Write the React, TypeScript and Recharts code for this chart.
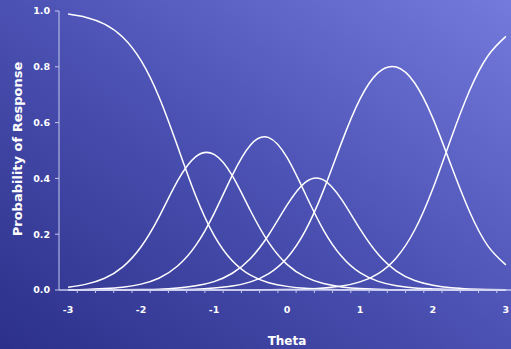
import { LineChart, Line, XAxis, YAxis, Label } from 'recharts';

// theta grid and category response probabilities
const theta = [-3, -2.75, -2.5, -2.25, -2, -1.75, -1.5, -1.25, -1, -0.75, -0.5, -0.25, 0, 0.25, 0.5, 0.75, 1, 1.25, 1.5, 1.75, 2, 2.25, 2.5, 2.75, 3];

const cat0 = [0.989, 0.977, 0.953, 0.906, 0.822, 0.689, 0.515, 0.337, 0.196, 0.105, 0.053, 0.026, 0.013, 0.006, 0.003, 0.001, 0.001, 0, 0, 0, 0, 0, 0, 0, 0];
const cat1 = [0.01, 0.021, 0.042, 0.083, 0.155, 0.264, 0.391, 0.478, 0.486, 0.41, 0.284, 0.17, 0.092, 0.047, 0.023, 0.011, 0.005, 0.003, 0.001, 0.001, 0, 0, 0, 0, 0];
const cat2 = [0.001, 0.002, 0.005, 0.01, 0.021, 0.043, 0.086, 0.16, 0.274, 0.411, 0.52, 0.546, 0.475, 0.345, 0.215, 0.12, 0.062, 0.031, 0.015, 0.007, 0.004, 0.002, 0.001, 0, 0];
const cat3 = [0, 0, 0, 0.001, 0.002, 0.003, 0.007, 0.015, 0.03, 0.06, 0.113, 0.198, 0.304, 0.386, 0.395, 0.324, 0.219, 0.128, 0.068, 0.034, 0.017, 0.008, 0.004, 0.002, 0.001];
const cat4 = [0, 0, 0, 0, 0, 0.001, 0.002, 0.003, 0.007, 0.014, 0.029, 0.059, 0.115, 0.212, 0.357, 0.53, 0.684, 0.779, 0.799, 0.742, 0.615, 0.446, 0.282, 0.159, 0.09];
const cat5 = [0, 0, 0, 0, 0, 0, 0, 0, 0, 0, 0, 0.001, 0.002, 0.003, 0.007, 0.014, 0.029, 0.059, 0.116, 0.215, 0.364, 0.544, 0.713, 0.838, 0.909];

const xLabels = [-3, -2, -1, 0, 1, 2, 3];
const yTicks = [0, 0.2, 0.4, 0.6, 0.8, 1.0];

const series = [cat0, cat1, cat2, cat3, cat4, cat5];

const data = theta.map((t, i) => {
    const row: Record<string, number> = { theta: t };
    series.forEach((s, k) => {
        row['c' + k] = s[i];
    });
    return row;
});

// minor tick marks sit between the data points
const minorTicks = theta.map((t) => t + 0.125);
const allTicks = [...xLabels, ...minorTicks].sort((a, b) => a - b);

const FONT = '"DejaVu Sans", Verdana, sans-serif';
const AXIS = '#c4c7ec';

const XTick = (props: any) => {
    const { x, y, payload } = props;
    const v = payload.value;
    if (Number.isInteger(v)) {
        return (
            <text x={x} y={y + 23} textAnchor="middle" fill="#ffffff" fontFamily={FONT} fontWeight="bold" fontSize={9.5}>
                {v}
            </text>
        );
    }
    return <line x1={x} y1={y} x2={x} y2={y + 3} stroke={AXIS} strokeWidth={1} />;
};

const YTitle = (props: any) => {
    const vb = props.viewBox;
    const cx = vb.x + 21.5;
    const cy = vb.y + vb.height / 2 - 1.5;
    return (
        <text
            x={cx}
            y={cy}
            transform={`rotate(-90, ${cx}, ${cy})`}
            textAnchor="middle"
            fill="#ffffff"
            fontFamily={FONT}
            fontWeight="bold"
            fontSize={13}
        >
            Probability of Response
        </text>
    );
};

export default function App() {
    return (
        <div
            style={{
                position: 'absolute',
                left: 0,
                top: 0,
                width: 511,
                height: 349,
                overflow: 'hidden',
                background: 'linear-gradient(to top right, #2c308a 0%, #4b51b2 50%, #747adb 100%)',
            }}
        >
            <LineChart width={520} height={349} data={data} margin={{ top: 11, right: 5, left: 0, bottom: 0 }}>
                <XAxis
                    dataKey="theta"
                    type="number"
                    domain={[-3.125, 3.125]}
                    ticks={allTicks}
                    interval={0}
                    tick={<XTick />}
                    tickLine={false}
                    tickSize={0}
                    tickMargin={0}
                    height={59}
                    axisLine={{ stroke: AXIS, strokeWidth: 1.5 }}
                >
                    <Label
                        value="Theta"
                        position="insideBottom"
                        offset={4}
                        fill="#ffffff"
                        fontFamily={FONT}
                        fontWeight="bold"
                        fontSize={12}
                    />
                </XAxis>
                <YAxis
                    type="number"
                    domain={[0, 1]}
                    ticks={yTicks}
                    interval={0}
                    width={59}
                    tickFormatter={(v: number) => v.toFixed(1)}
                    tick={{ fill: '#ffffff', fontFamily: FONT, fontWeight: 'bold', fontSize: 9.5 }}
                    tickSize={4}
                    tickMargin={5}
                    tickLine={{ stroke: AXIS }}
                    axisLine={{ stroke: AXIS }}
                >
                    <Label content={<YTitle />} />
                </YAxis>
                {series.map((_, k) => (
                    <Line
                        key={k}
                        type="natural"
                        dataKey={'c' + k}
                        stroke="#ffffff"
                        strokeWidth={1.5}
                        dot={false}
                        isAnimationActive={false}
                    />
                ))}
            </LineChart>
        </div>
    );
}
